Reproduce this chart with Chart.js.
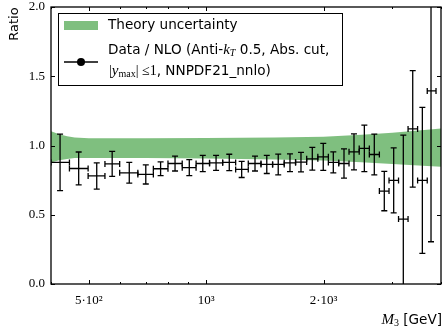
<!DOCTYPE html>
<html>
<head>
<meta charset="utf-8">
<script src="https://cdn.jsdelivr.net/npm/chart.js@4.4.1/dist/chart.umd.min.js"></script>
<style>
  html, body { margin: 0; padding: 0; background: #fff; }
</style>
</head>
<body>
<canvas id="chart" width="443" height="334"></canvas>
<script>
'use strict';

// measured three-jet mass bins (GeV): centres and edges
const massCenters = [422, 471, 524, 574, 635, 700, 764, 832, 905, 980, 1060, 1146, 1233, 1334, 1430, 1530,
    1640, 1750, 1871, 1996, 2118, 2256, 2393, 2544, 2698, 2862, 3025, 3202, 3385, 3583, 3771];
const binEdges = [400, 446, 498, 550, 600, 668, 732, 798, 868, 942, 1020, 1102, 1190, 1282, 1382, 1480, 1585,
    1695, 1810, 1933, 2057, 2187, 2324, 2468, 2620, 2780, 2943, 3113, 3293, 3484, 3688, 3884];

// data / NLO ratio and its error
const ratio = [0.878, 0.834, 0.780, 0.867, 0.803, 0.791, 0.832, 0.870, 0.840, 0.870, 0.875, 0.878, 0.827,
    0.870, 0.863, 0.863, 0.875, 0.880, 0.904, 0.918, 0.878, 0.870, 0.954, 0.979, 0.935, 0.671, 0.748,
    0.469, 1.120, 0.748, 1.394];
const ratioErr = [0.204, 0.119, 0.095, 0.090, 0.075, 0.069, 0.050, 0.054, 0.058, 0.058, 0.054, 0.059, 0.058,
    0.054, 0.065, 0.075, 0.064, 0.071, 0.082, 0.097, 0.076, 0.105, 0.130, 0.168, 0.147, 0.142, 0.235,
    0.606, 0.421, 0.527, 1.089];

// theory uncertainty band
const bandMass = [400, 420, 440, 460, 500, 700, 1000, 1500, 2000, 2500, 3000, 3500, 4000];
const bandUpper = [1.103, 1.082, 1.066, 1.057, 1.053, 1.052, 1.054, 1.058, 1.064, 1.077, 1.092, 1.108, 1.123];
const bandLower = [0.878, 0.893, 0.903, 0.909, 0.910, 0.910, 0.906, 0.899, 0.891, 0.879, 0.866, 0.855, 0.846];

// axis ticks
const xMajorTicks = [500, 1000, 2000];
const xMinorTicks = [400, 600, 700, 800, 900, 3000, 4000];
const xTickLabels = { 500: '5·10²', 1000: '10³', 2000: '2·10³' };
const yTicks = [0, 0.5, 1.0, 1.5, 2.0];

const SERIF = '"Liberation Serif", "DejaVu Serif", serif';
const SANS = '"DejaVu Sans", sans-serif';
const bandColor = 'rgba(0, 128, 0, 0.5)';

// draw a row of differently styled text pieces, left to right
function drawRuns(ctx, x, y, runs) {
    ctx.textBaseline = 'middle';
    ctx.textAlign = 'left';
    for (const r of runs) {
        ctx.font = r.font;
        ctx.fillText(r.t, x, y + (r.dy || 0));
        x += ctx.measureText(r.t).width;
    }
    return x;
}
function runsWidth(ctx, runs) {
    let w = 0;
    for (const r of runs) { ctx.font = r.font; w += ctx.measureText(r.t).width; }
    return w;
}

const errorBars = {
    id: 'errorBars',
    afterDatasetsDraw(chart) {
        const { ctx, chartArea: a, scales: { x, y } } = chart;
        ctx.save();
        ctx.beginPath();
        ctx.rect(a.left, a.top, a.right - a.left, a.bottom - a.top);
        ctx.clip();
        ctx.strokeStyle = '#000';
        ctx.lineWidth = 1.3;
        const cap = 3;
        massCenters.forEach((m, i) => {
            const px = x.getPixelForValue(m);
            const py = y.getPixelForValue(ratio[i]);
            const top = y.getPixelForValue(ratio[i] + ratioErr[i]);
            const bot = y.getPixelForValue(ratio[i] - ratioErr[i]);
            const lft = x.getPixelForValue(binEdges[i]);
            const rgt = x.getPixelForValue(binEdges[i + 1]);
            ctx.beginPath();
            ctx.moveTo(px, top); ctx.lineTo(px, bot);
            ctx.moveTo(px - cap, top); ctx.lineTo(px + cap, top);
            ctx.moveTo(px - cap, bot); ctx.lineTo(px + cap, bot);
            ctx.moveTo(lft, py); ctx.lineTo(rgt, py);
            ctx.moveTo(lft, py - cap); ctx.lineTo(lft, py + cap);
            ctx.moveTo(rgt, py - cap); ctx.lineTo(rgt, py + cap);
            ctx.stroke();
        });
        ctx.restore();
    }
};

const frame = {
    id: 'frame',
    afterDraw(chart) {
        const { ctx, chartArea: a, scales: { x, y } } = chart;
        ctx.save();
        ctx.strokeStyle = '#000';
        ctx.fillStyle = '#000';

        // ticks pointing inwards on all four sides
        ctx.lineWidth = 1;
        ctx.beginPath();
        const xt = (v, len) => {
            const px = Math.round(x.getPixelForValue(v)) + 0.5;
            ctx.moveTo(px, a.bottom); ctx.lineTo(px, a.bottom - len);
            ctx.moveTo(px, a.top); ctx.lineTo(px, a.top + len);
        };
        xMajorTicks.forEach(v => xt(v, 4));
        xMinorTicks.forEach(v => xt(v, 2));
        yTicks.forEach(v => {
            const py = Math.round(y.getPixelForValue(v)) + 0.5;
            ctx.moveTo(a.left, py); ctx.lineTo(a.left + 4, py);
            ctx.moveTo(a.right, py); ctx.lineTo(a.right - 4, py);
        });
        ctx.stroke();

        // axes box
        ctx.lineWidth = 1.3;
        ctx.strokeRect(a.left, a.top, a.right - a.left, a.bottom - a.top);

        // y title
        ctx.save();
        ctx.translate(15, 24);
        ctx.rotate(-Math.PI / 2);
        ctx.font = '13px ' + SANS;
        ctx.textAlign = 'center';
        ctx.textBaseline = 'middle';
        ctx.fillText('Ratio', 0, 0);
        ctx.restore();

        // x title, right aligned
        const xTitle = [
            { t: 'M', font: 'italic 15px ' + SERIF },
            { t: '3', font: '10px ' + SERIF, dy: 3 },
            { t: ' [GeV]', font: '13.6px ' + SANS }
        ];
        drawRuns(ctx, 442 - runsWidth(ctx, xTitle), 320, xTitle);

        // legend
        const lx = 58, ly = 13, lw = 284, lh = 72;
        ctx.fillStyle = '#fff';
        ctx.fillRect(lx, ly, lw, lh);
        ctx.lineWidth = 1;
        ctx.strokeRect(lx + 0.5, ly + 0.5, lw, lh);
        ctx.fillStyle = bandColor;
        ctx.fillRect(64, 21, 34, 9);
        ctx.strokeStyle = '#000';
        ctx.lineWidth = 1.3;
        ctx.beginPath();
        ctx.moveTo(64, 62); ctx.lineTo(98, 62);
        ctx.stroke();
        ctx.fillStyle = '#000';
        ctx.beginPath();
        ctx.arc(81, 62, 4, 0, Math.PI * 2);
        ctx.fill();

        const sans = '13.6px ' + SANS;
        drawRuns(ctx, 108, 25, [{ t: 'Theory uncertainty', font: sans }]);
        drawRuns(ctx, 108, 50, [
            { t: 'Data / NLO (Anti-', font: sans },
            { t: 'k', font: 'italic 15px ' + SERIF },
            { t: 'T', font: 'italic 10px ' + SERIF, dy: 3 },
            { t: ' 0.5, Abs. cut,', font: sans }
        ]);
        drawRuns(ctx, 109, 71, [
            { t: '|', font: '14px ' + SERIF },
            { t: 'y', font: 'italic 15px ' + SERIF },
            { t: 'max', font: '10px ' + SERIF, dy: 3 },
            { t: '| ≤1', font: '14px ' + SERIF },
            { t: ', NNPDF21_nnlo)', font: sans }
        ]);
        ctx.restore();
    }
};

const xy = (xs, ys) => xs.map((v, i) => ({ x: v, y: ys[i] }));

new Chart(document.getElementById('chart').getContext('2d'), {
    type: 'scatter',
    data: {
        datasets: [
            {
                label: 'band lower',
                data: xy(bandMass, bandLower),
                showLine: true,
                borderWidth: 0,
                pointRadius: 0,
                fill: false
            },
            {
                label: 'Theory uncertainty',
                data: xy(bandMass, bandUpper),
                showLine: true,
                borderWidth: 0,
                pointRadius: 0,
                backgroundColor: bandColor,
                fill: '-1'
            },
            {
                label: 'Data / NLO',
                data: xy(massCenters, ratio),
                pointRadius: 0,
                backgroundColor: '#000'
            }
        ]
    },
    options: {
        responsive: false,
        animation: false,
        devicePixelRatio: 1,
        layout: { padding: { top: 7, right: 2, left: 0, bottom: 0 } },
        plugins: { legend: { display: false }, tooltip: { enabled: false } },
        scales: {
            x: {
                type: 'logarithmic',
                min: 400,
                max: 4000,
                afterBuildTicks: s => {
                    s.ticks = [...xMajorTicks, ...xMinorTicks].sort((p, q) => p - q).map(v => ({ value: v }));
                },
                afterFit: s => { s.height = 50; s.paddingLeft = 0; s.paddingRight = 0; },
                grid: { display: false, drawTicks: false, tickLength: 0 },
                border: { display: false },
                ticks: {
                    autoSkip: false,
                    maxRotation: 0,
                    padding: 9,
                    color: '#000',
                    font: { family: SERIF, size: 13 },
                    callback: v => xTickLabels[v] || ''
                }
            },
            y: {
                min: 0,
                max: 2,
                afterBuildTicks: s => { s.ticks = yTicks.map(v => ({ value: v })); },
                afterFit: s => { s.width = 51; s.paddingTop = 0; s.paddingBottom = 0; },
                grid: { display: false, drawTicks: false, tickLength: 0 },
                border: { display: false },
                ticks: {
                    padding: 6,
                    color: '#000',
                    font: { family: SERIF, size: 13 },
                    callback: v => v.toFixed(1)
                }
            }
        }
    },
    plugins: [errorBars, frame]
});
</script>
</body>
</html>
